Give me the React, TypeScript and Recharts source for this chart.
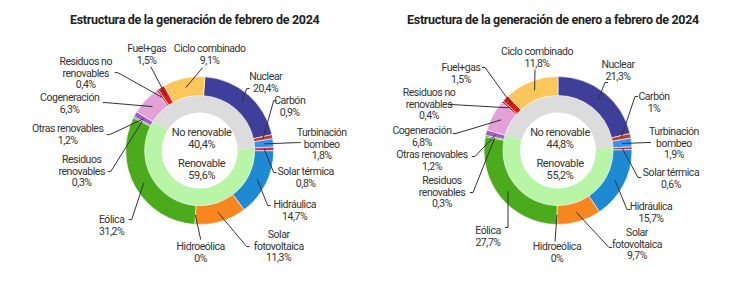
import React from "react";
import { PieChart, Pie, Cell } from "recharts";

// Generation mix, outer ring (clockwise from 12 o'clock)
const sources = [
  "Nuclear",
  "Carbón",
  "Turbinación\nbombeo",
  "Solar térmica",
  "Hidráulica",
  "Solar\nfotovoltaica",
  "Hidroeólica",
  "Eólica",
  "Residuos\nrenovables",
  "Otras renovables",
  "Cogeneración",
  "Residuos no\nrenovables",
  "Fuel+gas",
  "Ciclo combinado",
];
const renewable = [false, false, false, true, true, true, true, true, true, true, false, false, false, false];
const febValues = [20.4, 0.9, 1.8, 0.8, 14.7, 11.3, 0, 31.2, 0.3, 1.2, 6.3, 0.4, 1.5, 9.1];
const eneFebValues = [21.3, 1, 1.9, 0.6, 15.7, 9.7, 0, 27.7, 0.3, 1.2, 6.8, 0.4, 1.5, 11.8];

// Inner ring
const groups = ["Renovable", "No renovable"];
const febGroups = [59.6, 40.4];
const eneFebGroups = [55.2, 44.8];

const titles = [
  "Estructura de la generación de febrero de 2024",
  "Estructura de la generación de enero a febrero de 2024",
];

const sourceColors = [
  "#3f3f99", "#c8382c", "#3094ec", "#d8283e", "#1f8ad4", "#f7861e", "#6fb8e0",
  "#4bab1c", "#2f7d1c", "#a35bcc", "#e2a2d8", "#9a1b1b", "#e11b1b", "#fbc65a",
];
const groupColors = ["#b8f5a6", "#dcdcdc"];

// label placement (offsets from each donut centre): text centre, leader start
const febLayout = [
  [66, -74, 50, -62], [90, -50, 77, -50], [122, -18, 101, -8], [106, 21, 77, 22],
  [95, 54, 71, 55], [79, 84, 50, 96], [1, 96, 1, 89], [-88, 69, -71, 69],
  [-118, 9, -92, 21], [-132, -22, -93, -16], [-130, -53, -97, -48], [-114, -89, -85, -78],
  [-53, -102, -49, -84], [10, -102, 3, -83],
];
const eneFebLayout = [
  [60, -86, 50, -68], [96, -54, 80, -54], [116, -19, 93, -8], [113, 22, 83, 27],
  [93, 56, 72, 59], [79, 82, 54, 97], [-1, 96, -3, 91], [-70, 80, -53, 77],
  [-116, 30, -88, 42], [-126, 4, -86, 6], [-136, -20, -105, -17], [-129, -58, -110, -46],
  [-97, -83, -76, -83], [-21, -99, -23, -81],
];

const FONT = "Roboto, 'Noto Sans', sans-serif";
const RAD = Math.PI / 180;
const LINE_H = 11.5;

const pct = (v: number) => `${String(v).replace(".", ",")}%`;

const charts = [
  { cx: 194.7, cy: 145.6, start: 86, values: febValues, groupValues: febGroups, layout: febLayout, title: titles[0] },
  { cx: 553, cy: 145.5, start: 90, values: eneFebValues, groupValues: eneFebGroups, layout: eneFebLayout, title: titles[1] },
];

function makeOuterLabel(values: number[], layout: number[][]) {
  return (props: any) => {
    const { cx, cy, midAngle, innerRadius, outerRadius, index } = props;
    const [tdx, tdy, ldx, ldy] = layout[index];
    const r = (innerRadius + outerRadius) / 2;
    const px = cx + r * Math.cos(-midAngle * RAD);
    const py = cy + r * Math.sin(-midAngle * RAD);
    const lx = cx + ldx;
    const ly = cy + ldy;
    const stub = ldx < tdx ? -3 : 3;
    const lines = [...sources[index].split("\n"), pct(values[index])];
    return (
      <g key={`lab-${index}`}>
        <polyline
          points={`${lx},${ly} ${lx + (Math.abs(ldx - tdx) > 8 ? stub : 0)},${ly} ${px},${py}`}
          fill="none"
          stroke="#333"
          strokeWidth={1}
        />
        {lines.map((t, i) => (
          <text
            key={i}
            x={cx + tdx}
            y={cy + tdy + 3.8 + i * LINE_H}
            textAnchor="middle"
            fontFamily={FONT}
            fontSize={10.5}
            letterSpacing={-0.45}
            fill="#333"
          >
            {t}
          </text>
        ))}
      </g>
    );
  };
}

function makeInnerLabel(values: number[]) {
  return (props: any) => {
    const { cx, cy, index } = props;
    const y = index === 1 ? cy - 15 : cy + 16;
    return (
      <g key={`in-${index}`}>
        {[groups[index], pct(values[index])].map((t, i) => (
          <text
            key={i}
            x={cx + 2}
            y={y + i * 12}
            textAnchor="middle"
            fontFamily={FONT}
            fontSize={11}
            letterSpacing={-0.4}
            fill="#333"
          >
            {t}
          </text>
        ))}
      </g>
    );
  };
}

export default function App() {
  return (
    <div style={{ position: "absolute", left: 0, top: 0, width: 750, height: 286, background: "#fff" }}>
      {charts.map((c, k) => (
        <div
          key={k}
          style={{
            position: "absolute",
            left: c.cx - 200,
            width: 400,
            top: 12,
            textAlign: "center",
            fontFamily: FONT,
            fontWeight: 700,
            fontSize: 12.5,
            letterSpacing: -0.3,
            whiteSpace: "nowrap",
            color: "#222",
          }}
        >
          {c.title}
        </div>
      ))}
      <div style={{ position: "absolute", left: 0, top: 0 }}>
        <PieChart width={750} height={286}>
          {charts.map((c, k) => {
            const outerData = sources.map((name, i) => ({ name, value: c.values[i] }));
            const innerData = groups.map((name, i) => ({ name, value: c.groupValues[i] }));
            const total = c.values.reduce((a, b) => a + b, 0);
            const firstRenew = renewable.indexOf(true);
            const lead = c.values.slice(0, firstRenew).reduce((a, b) => a + b, 0);
            const innerStart = c.start - (lead / total) * 360;
            return [
              <Pie
                key={`inner-${k}`}
                data={innerData}
                dataKey="value"
                cx={c.cx}
                cy={c.cy}
                innerRadius={38}
                outerRadius={55}
                startAngle={innerStart}
                endAngle={innerStart - 360}
                stroke="none"
                label={makeInnerLabel(c.groupValues)}
                labelLine={false}
                isAnimationActive={false}
              >
                {innerData.map((_, i) => (
                  <Cell key={i} fill={groupColors[i]} />
                ))}
              </Pie>,
              <Pie
                key={`outer-${k}`}
                data={outerData}
                dataKey="value"
                cx={c.cx}
                cy={c.cy}
                innerRadius={55}
                outerRadius={74}
                startAngle={c.start}
                endAngle={c.start - 360}
                stroke="#fff"
                strokeWidth={0.6}
                label={makeOuterLabel(c.values, c.layout)}
                labelLine={false}
                isAnimationActive={false}
              >
                {outerData.map((_, i) => (
                  <Cell key={i} fill={sourceColors[i]} />
                ))}
              </Pie>,
            ];
          })}
        </PieChart>
      </div>
    </div>
  );
}
